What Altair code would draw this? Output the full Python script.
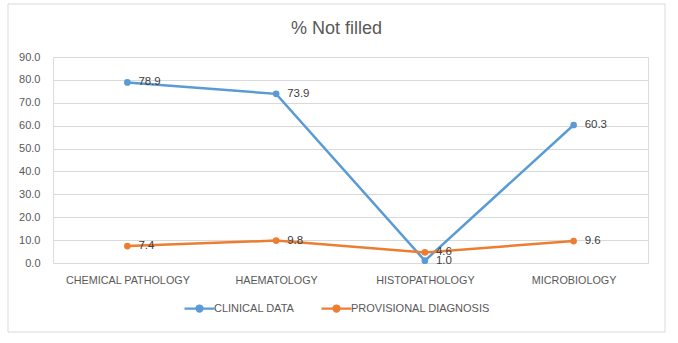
import altair as alt
import pandas as pd

categories = ["CHEMICAL PATHOLOGY", "HAEMATOLOGY", "HISTOPATHOLOGY", "MICROBIOLOGY"]
clinical_data = [78.9, 73.9, 1.0, 60.3]
provisional_diagnosis = [7.4, 9.8, 4.6, 9.6]
series_names = ["CLINICAL DATA", "PROVISIONAL DIAGNOSIS"]
series_colors = ["#5B9BD5", "#ED7D31"]

rows = []
for name, vals in zip(series_names, [clinical_data, provisional_diagnosis]):
    for c, v in zip(categories, vals):
        rows.append({"category": c, "series": name, "value": v})
df = pd.DataFrame(rows)

FONT = "Liberation Sans"
GREY = "#595959"

x = alt.X("category:N", sort=categories, scale=alt.Scale(type="point", padding=0.5),
          axis=alt.Axis(title=None, labelAngle=0, grid=False, domain=False, ticks=False,
                        labelFont=FONT, labelFontSize=10.8, labelColor=GREY, labelPadding=11))
y = alt.Y("value:Q", scale=alt.Scale(domain=[0, 90], nice=False),
          axis=alt.Axis(title=None, values=list(range(0, 100, 10)), format=".1f",
                        domain=False, ticks=False, gridColor="#D9D9D9", gridWidth=1,
                        labelFont=FONT, labelFontSize=11, labelColor=GREY, labelPadding=13))
color = alt.Color("series:N", scale=alt.Scale(domain=series_names, range=series_colors),
                  legend=alt.Legend(title=None, orient="none", direction="horizontal",
                                    legendX=135, legendY=240,
                                    symbolType="M-1.5,0L1.5,0M-0.3,0A0.3,0.3 0 1,1 0.3,0A0.3,0.3 0 1,1 -0.3,0Z",
                                    symbolSize=400, symbolStrokeWidth=2.25,
                                    labelFont=FONT, labelFontSize=11, labelColor=GREY,
                                    labelOffset=3, columnPadding=22))

border = alt.Chart(pd.DataFrame({"a": [0]})).mark_rect(
    fillOpacity=0, stroke="#D9D9D9", strokeWidth=1
).encode(x=alt.value(-45), x2=alt.value(612), y=alt.value(-53), y2=alt.value(275))

base = alt.Chart(df)
lines = base.mark_line(strokeWidth=2.5).encode(x=x, y=y, color=color)
points = base.mark_point(filled=True, size=45, opacity=1).encode(x=x, y=y, color=alt.Color("series:N", legend=None))
labels = base.mark_text(align="left", baseline="middle", dx=11, font=FONT, fontSize=11.5,
                        color="#404040").encode(x=x, y=y, text=alt.Text("value:Q", format=".1f"))

chart = alt.layer(border, lines, points, labels).properties(
    width=595, height=206,
    autosize=alt.AutoSizeParams(type="none"),
    padding={"left": 53, "top": 57, "right": 30, "bottom": 80},
    title=alt.TitleParams("% Not filled", font=FONT, fontSize=18, fontWeight="normal",
                          color=GREY, anchor="middle", offset=-34, dx=-14),
).configure_view(stroke=None).configure(background="white")

chart.save("out.html", embed_options={"renderer": "svg", "actions": False})
